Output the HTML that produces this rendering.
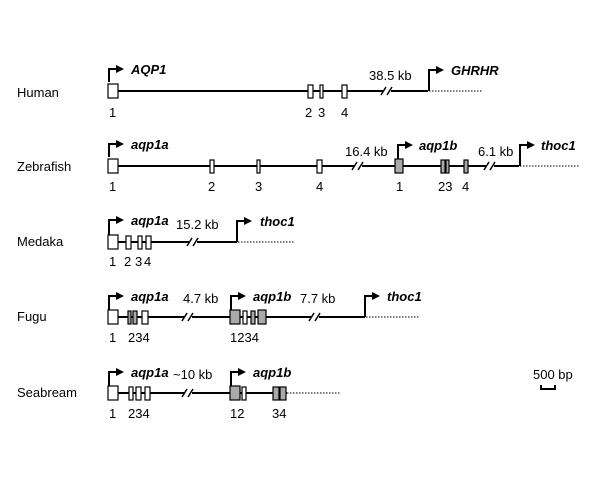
<!DOCTYPE html>
<html><head><style>body{margin:0;background:#fff}svg{display:block}text{font-family:"Liberation Sans",Arial,sans-serif;font-size:13px;fill:#000}.g{font-weight:bold;font-style:italic}</style></head><body>
<svg width="600" height="478" viewBox="0 0 600 478" xmlns="http://www.w3.org/2000/svg">
<defs><marker id="a" markerWidth="4" markerHeight="4" refX="3" refY="2" orient="auto"><path d="M0,0L4,2L0,4z" fill="#000"/></marker></defs>
<g stroke="#000" stroke-width="2" fill="none">
<line x1="118" y1="91" x2="428" y2="91"/>
<path d="M109,82V69H122" marker-end="url(#a)"/>
<path d="M429,91V70H442" marker-end="url(#a)"/>
<line x1="118" y1="166" x2="519" y2="166"/>
<path d="M109,157V144H122" marker-end="url(#a)"/>
<path d="M398,159V145H411" marker-end="url(#a)"/>
<path d="M520,166V145H533" marker-end="url(#a)"/>
<line x1="118" y1="242" x2="237" y2="242"/>
<path d="M109,235V220H122" marker-end="url(#a)"/>
<path d="M237,242V221H250" marker-end="url(#a)"/>
<line x1="118" y1="317" x2="365" y2="317"/>
<path d="M109,310V296H122" marker-end="url(#a)"/>
<path d="M231,310V296H244" marker-end="url(#a)"/>
<path d="M365,317V296H378" marker-end="url(#a)"/>
<line x1="118" y1="393" x2="287" y2="393"/>
<path d="M109,386V372H122" marker-end="url(#a)"/>
<path d="M231,386V372H244" marker-end="url(#a)"/>
<path d="M541,385V389H555V385" stroke-width="2"/>
</g>
<g stroke="#000" stroke-width="1" stroke-dasharray="1.5,1.5">
<line x1="429" y1="91" x2="482" y2="91"/>
<line x1="520" y1="166" x2="580" y2="166"/>
<line x1="238" y1="242" x2="295" y2="242"/>
<line x1="366" y1="317" x2="420" y2="317"/>
<line x1="287" y1="393" x2="340" y2="393"/>
</g>
<g stroke="#fff" stroke-width="4">
<line x1="383" y1="91" x2="391" y2="91"/><line x1="354" y1="166" x2="362" y2="166"/><line x1="486" y1="166" x2="494" y2="166"/>
<line x1="189" y1="242" x2="197" y2="242"/><line x1="184" y1="317" x2="192" y2="317"/><line x1="311" y1="317" x2="319" y2="317"/><line x1="184" y1="393" x2="192" y2="393"/>
</g>
<g stroke="#000" stroke-width="1.5">
<path d="M381,95L386,87M387,95L392,87"/><path d="M352,170L357,162M358,170L363,162"/><path d="M484,170L489,162M490,170L495,162"/>
<path d="M187,246L192,238M193,246L198,238"/><path d="M182,321L187,313M188,321L193,313"/><path d="M309,321L314,313M315,321L320,313"/><path d="M182,397L187,389M188,397L193,389"/>
</g>
<g stroke="#000" stroke-width="1.2">
<g fill="#fff">
<rect x="108" y="84" width="10" height="14"/><rect x="308" y="85" width="5" height="13"/><rect x="320" y="85" width="3" height="13"/><rect x="342" y="85" width="5" height="13"/>
<rect x="108" y="159" width="10" height="14"/><rect x="210" y="160" width="4" height="13"/><rect x="257" y="160" width="3" height="13"/><rect x="317" y="160" width="5" height="13"/>
<rect x="108" y="235" width="10" height="14"/><rect x="126" y="236" width="5" height="13"/><rect x="138" y="236" width="4" height="13"/><rect x="146" y="236" width="5" height="13"/>
<rect x="108" y="310" width="10" height="14"/><rect x="142" y="311" width="6" height="13"/><rect x="243" y="311" width="4" height="13"/>
<rect x="108" y="386" width="10" height="14"/><rect x="129" y="387" width="4" height="13"/><rect x="136" y="387" width="5" height="13"/><rect x="145" y="387" width="5" height="13"/><rect x="242" y="387" width="4" height="13"/>
</g>
<g fill="#aaa">
<rect x="395" y="159" width="8" height="14"/><rect x="441" y="160" width="4" height="13"/><rect x="446" y="160" width="3" height="13"/><rect x="464" y="160" width="4" height="13"/>
<rect x="128" y="311" width="3" height="13"/><rect x="133" y="311" width="4" height="13"/>
<rect x="230" y="310" width="10" height="14"/><rect x="251" y="311" width="4" height="13"/><rect x="258" y="310" width="8" height="14"/>
<rect x="230" y="386" width="10" height="14"/><rect x="273" y="387" width="6" height="13"/><rect x="280" y="387" width="6" height="13"/>
</g>
</g>
<text x="17" y="97">Human</text><text x="17" y="171">Zebrafish</text><text x="17" y="246">Medaka</text><text x="17" y="321">Fugu</text><text x="17" y="397">Seabream</text>
<text class="g" x="131" y="74">AQP1</text><text class="g" x="451" y="75">GHRHR</text><text x="369" y="80">38.5 kb</text>
<text x="109" y="117">1</text><text x="305" y="117">2</text><text x="318" y="117">3</text><text x="341" y="117">4</text>
<text class="g" x="131" y="149">aqp1a</text><text class="g" x="419" y="150">aqp1b</text><text class="g" x="541" y="150">thoc1</text>
<text x="345" y="156">16.4 kb</text><text x="478" y="156">6.1 kb</text>
<text x="109" y="191">1</text><text x="208" y="191">2</text><text x="255" y="191">3</text><text x="316" y="191">4</text><text x="396" y="191">1</text><text x="438" y="191">23</text><text x="462" y="191">4</text>
<text class="g" x="131" y="225">aqp1a</text><text x="176" y="229">15.2 kb</text><text class="g" x="260" y="226">thoc1</text>
<text x="109" y="266">1</text><text x="124" y="266">2</text><text x="135" y="266">3</text><text x="144" y="266">4</text>
<text class="g" x="131" y="301">aqp1a</text><text x="183" y="303">4.7 kb</text><text class="g" x="253" y="301">aqp1b</text><text x="300" y="303">7.7 kb</text><text class="g" x="387" y="301">thoc1</text>
<text x="109" y="342">1</text><text x="128" y="342">234</text><text x="230" y="342">1234</text>
<text class="g" x="131" y="377">aqp1a</text><text x="173" y="379">~10 kb</text><text class="g" x="253" y="377">aqp1b</text>
<text x="109" y="418">1</text><text x="128" y="418">234</text><text x="230" y="418">12</text><text x="272" y="418">34</text>
<text x="533" y="379">500 bp</text>
</svg>
</body></html>
